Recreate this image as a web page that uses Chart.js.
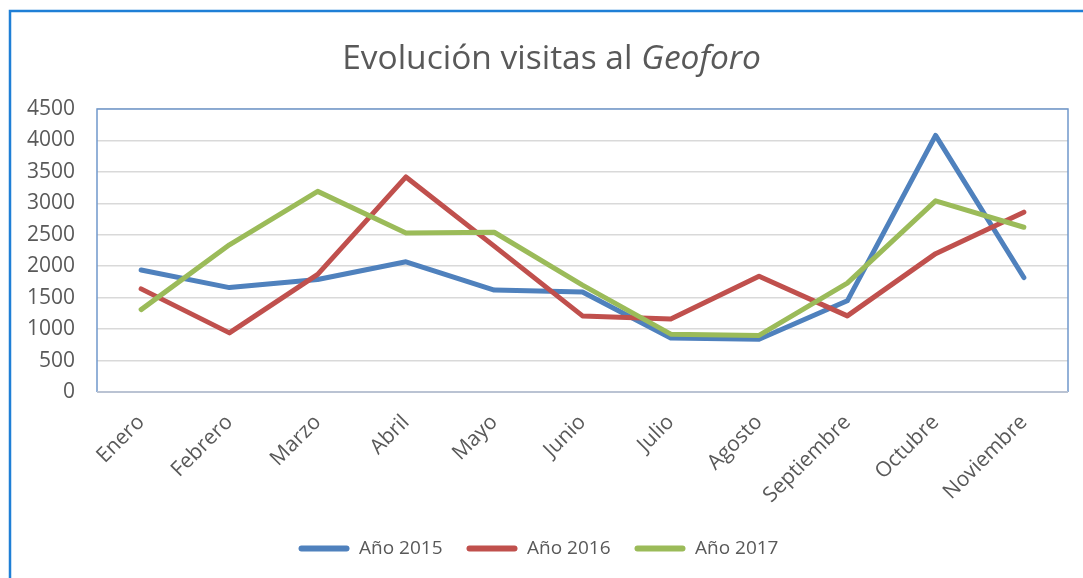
<!DOCTYPE html>
<html>
<head>
<meta charset="utf-8">
<script src="https://cdn.jsdelivr.net/npm/chart.js@4/dist/chart.umd.min.js"></script>
<style>
  html, body { margin: 0; padding: 0; background: #ffffff; }
  #wrap { position: relative; width: 1083px; height: 578px; }
</style>
</head>
<body>
<div id="wrap"><canvas id="c" width="1083" height="578"></canvas></div>
<script>
const categories = ['Enero', 'Febrero', 'Marzo', 'Abril', 'Mayo', 'Junio', 'Julio', 'Agosto', 'Septiembre', 'Octubre', 'Noviembre'];
const seriesNames = ['Año 2015', 'Año 2016', 'Año 2017'];
const visitas2015 = [1940, 1660, 1790, 2070, 1620, 1590, 860, 840, 1450, 4080, 1820];
const visitas2016 = [1640, 940, 1870, 3420, 2320, 1210, 1160, 1840, 1210, 2200, 2860];
const visitas2017 = [1310, 2340, 3190, 2530, 2540, 1700, 920, 900, 1730, 3040, 2620];
const titleNormal = 'Evolución visitas al ';
const titleItalic = 'Geoforo';

const FONT = '"Open Sans", "DejaVu Sans", sans-serif';
const TXT = '#595959';

const decorPlugin = {
  id: 'decor',
  beforeDraw(chart) {
    const ctx = chart.ctx;
    ctx.save();
    ctx.fillStyle = '#ffffff';
    ctx.fillRect(0, 0, chart.width, chart.height);
    ctx.strokeStyle = '#1f7fd6';
    ctx.lineWidth = 2.5;
    ctx.beginPath();
    ctx.moveTo(10, chart.height + 5);
    ctx.lineTo(10, 11);
    ctx.lineTo(chart.width + 5, 11);
    ctx.stroke();
    ctx.restore();
  },
  beforeDatasetsDraw(chart) {
    const a = chart.chartArea;
    const ctx = chart.ctx;
    ctx.save();
    ctx.strokeStyle = '#7098cc';
    ctx.lineWidth = 1.5;
    ctx.beginPath();
    ctx.moveTo(a.left, a.bottom);
    ctx.lineTo(a.left, a.top);
    ctx.lineTo(a.right, a.top);
    ctx.lineTo(a.right, a.bottom);
    ctx.stroke();
    ctx.strokeStyle = '#bac3d3';
    ctx.lineWidth = 2;
    ctx.beginPath();
    ctx.moveTo(a.left, a.bottom);
    ctx.lineTo(a.right, a.bottom);
    ctx.stroke();
    ctx.restore();
  },
  afterDraw(chart) {
    const ctx = chart.ctx;
    ctx.save();
    ctx.fillStyle = TXT;
    ctx.textBaseline = 'alphabetic';
    ctx.textAlign = 'left';
    const fN = '33.5px ' + FONT;
    const fI = 'italic 33.5px ' + FONT;
    ctx.font = fN;
    const w1 = ctx.measureText(titleNormal).width;
    ctx.font = fI;
    const w2 = ctx.measureText(titleItalic).width;
    const x0 = 551.5 - (w1 + w2) / 2;
    ctx.font = fN;
    ctx.fillText(titleNormal, x0, 69);
    ctx.font = fI;
    ctx.fillText(titleItalic, x0 + w1, 69);
    ctx.restore();
  }
};

const colors = ['#4f81bd', '#c0504d', '#9bbb59'];
const seriesData = [visitas2015, visitas2016, visitas2017];

new Chart(document.getElementById('c'), {
  type: 'line',
  data: {
    labels: categories,
    datasets: seriesData.map((d, i) => ({
      label: seriesNames[i],
      data: d,
      borderColor: colors[i],
      backgroundColor: colors[i],
      borderWidth: 5,
      pointRadius: 0,
      pointHoverRadius: 0,
      tension: 0,
      fill: false,
      borderJoinStyle: 'round',
      borderCapStyle: 'round',
      order: 3 - i
    }))
  },
  options: {
    responsive: false,
    animation: false,
    events: [],
    layout: { padding: { left: 9, right: 15, top: 109, bottom: 10 } },
    plugins: {
      title: { display: false },
      tooltip: { enabled: false },
      legend: {
        position: 'bottom',
        labels: {
          color: TXT,
          font: { family: FONT, size: 19 },
          boxWidth: 51,
          boxHeight: 6,
          padding: 24,
          useBorderRadius: true,
          borderRadius: 3,
          sort: (a, b) => a.datasetIndex - b.datasetIndex,
          generateLabels(chart) {
            const items = Chart.defaults.plugins.legend.labels.generateLabels(chart);
            items.forEach(it => { it.lineWidth = 0; it.fillStyle = it.strokeStyle; });
            return items;
          }
        }
      }
    },
    scales: {
      x: {
        offset: true,
        grid: { display: false, drawTicks: false },
        border: { display: false },
        ticks: {
          color: TXT,
          font: { family: FONT, size: 21 },
          minRotation: 45,
          maxRotation: 45,
          autoSkip: false,
          padding: 18
        },
        afterFit(scale) { scale.height = 123; }
      },
      y: {
        min: 0,
        max: 4500,
        grid: { color: '#d9d9d9', lineWidth: 1.5, drawTicks: false },
        border: { display: false },
        ticks: {
          stepSize: 500,
          color: TXT,
          font: { family: FONT, size: 21 },
          padding: 22,
          callback: (v) => String(v)
        },
        afterFit(scale) { scale.width = 88; }
      }
    }
  },
  plugins: [decorPlugin]
});
</script>
</body>
</html>
